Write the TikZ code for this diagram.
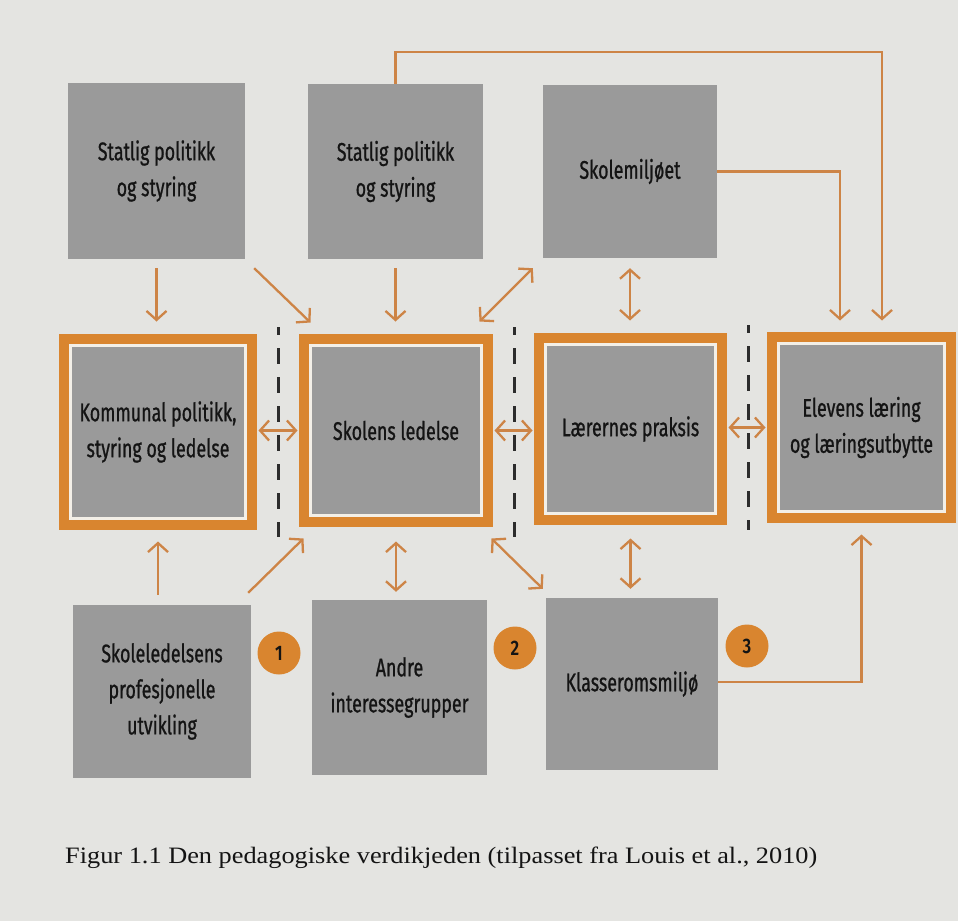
\documentclass[tikz,border=0pt]{standalone}
\usepackage{fontspec}
\newfontfamily\boxfont[FakeStretch=0.7,FakeBold=0.8]{Fira Sans}
\newfontfamily\numfont[FakeStretch=0.8]{Fira Sans SemiBold}
\newfontfamily\capfont[FakeStretch=1.12]{Liberation Serif}
\usetikzlibrary{arrows.meta,calc}
\definecolor{paper}{HTML}{E4E4E1}
\definecolor{boxgray}{HTML}{9A9A9A}
\definecolor{orng}{HTML}{D9852F}
\definecolor{arrorng}{HTML}{CD8446}
\definecolor{ink}{HTML}{141414}
\definecolor{cream}{HTML}{F3EFE7}
\tikzset{
  graybox/.style={fill=boxgray, draw=none, inner sep=0pt, align=center, text=ink,
    font=\boxfont\fontsize{25.5}{36}\selectfont},
  framebox/.style={graybox, preaction={draw=orng, line width=23pt}, draw=cream, line width=3pt},
  arr/.style={draw=arrorng, line width=2.3pt, -{Straight Barb[length=9pt,width=20pt]}},
  darr/.style={draw=arrorng, line width=2.3pt, {Straight Barb[length=9pt,width=20pt]}-{Straight Barb[length=9pt,width=20pt]}},
  badge/.style={circle, fill=orng, draw=none, minimum size=43pt, inner sep=0pt, text=ink,
    font=\numfont\fontsize{21}{21}\selectfont},
  sepline/.style={draw=ink!90, line width=3pt, dash pattern=on 16pt off 13pt}
}
\begin{document}
\begin{tikzpicture}[x=1pt,y=-1pt]
\fill[paper] (0,0) rectangle (958,921);
\useasboundingbox (0,0) rectangle (958,921);

% top row
\node[graybox, minimum width=177pt, minimum height=176pt] (a1) at (156.5,171) {Statlig politikk\\og styring};
\node[graybox, minimum width=175pt, minimum height=175pt] (a2) at (395.5,171.5) {Statlig politikk\\og styring};
\node[graybox, minimum width=174pt, minimum height=173pt] (a3) at (630,171.5) {Skolemiljøet};

% middle row
\node[framebox, minimum width=175pt, minimum height=173pt] (b1) at (158,432) {Kommunal politikk,\\styring og ledelse};
\node[framebox, minimum width=171pt, minimum height=170pt] (b2) at (396,430.5) {Skolens ledelse};
\node[framebox, minimum width=170pt, minimum height=169pt] (b3) at (630.5,429) {Lærernes praksis};
\node[framebox, minimum width=166pt, minimum height=168pt] (b4) at (861.5,427.5) {Elevens læring\\og læringsutbytte};

% bottom row
\node[graybox, minimum width=178pt, minimum height=173pt] (c1) at (162,691.5) {Skoleledelsens\\profesjonelle\\utvikling};
\node[graybox, minimum width=175pt, minimum height=175pt] (c2) at (399.5,687.5) {Andre\\interessegrupper};
\node[graybox, minimum width=172pt, minimum height=172pt] (c3) at (632,684) {Klasseromsmiljø};

% badges
\node[badge] (n1) at (279,653) {1};
\node[badge] (n2) at (515,648) {2};
\node[badge] (n3) at (747,646) {3};

% separators
\draw[sepline, dash phase=8pt] (278,327) -- (278,537);
\draw[sepline, dash phase=8pt] (514,327) -- (514,537);
\draw[sepline, dash phase=8pt] (748,325) -- (748,530);

% top to middle
\draw[arr, shorten <=9pt, shorten >=22.5pt] (a1.south) -- (a1.south |- b1.north);
\draw[arr] ($(a1.south east)+(9,9)$) -- ($(b2.north west)+(1.5,-21.5)$);
\draw[arr, shorten <=9pt, shorten >=22.5pt] (a2.south) -- (a2.south |- b2.north);
\draw[darr] ($(b2.north east)+(-3.5,-22.5)$) -- ($(a3.south west)+(-10,10)$);
\draw[darr, shorten <=10pt, shorten >=22.5pt] (a3.south) -- (a3.south |- b3.north);
\draw[arr] (a3.east) -| ($(b4.north)+(-21.5,-21.5)$);
\draw[arr] (a2.north) -- ++(0,-32) -| ($(b4.north)+(20.5,-21.5)$);

% middle horizontal
\draw[darr, shorten <=11.5pt, shorten >=11.5pt] (b2.west -| b1.east) -- (b2.west);
\draw[darr, shorten <=11.5pt, shorten >=11.5pt] (b2.east) -- (b2.east -| b3.west);
\draw[darr, shorten <=11.5pt, shorten >=11.5pt] (b3.east |- b4.west) -- (b4.west);

% bottom to middle
\draw[arr, shorten <=10pt, shorten >=21.5pt] (b1.south |- c1.north) -- (b1.south);
\draw[arr] ($(c1.north east)+(-3,-12)$) -- ($(b2.south west)+(-5.5,21.5)$);
\draw[darr, shorten <=8pt, shorten >=24.5pt] (b2.south |- c2.north) -- (b2.south);
\draw[darr] ($(b2.south east)+(8.5,21.5)$) -- ($(c3.north west)+(-3,-9)$);
\draw[darr, shorten <=9pt, shorten >=23.5pt] (b3.south |- c3.north) -- (b3.south);
\draw[arr] ($(c3.east)+(0,-2)$) -| ($(b4.south)+(0,21.5)$);

% caption
\node[anchor=west, inner sep=0pt, text=ink, font=\capfont\fontsize{23.5}{28}\selectfont] (cap) at (65,858)
  {Figur 1.1 Den pedagogiske verdikjeden (tilpasset fra Louis et al., 2010)};
\end{tikzpicture}
\end{document}
